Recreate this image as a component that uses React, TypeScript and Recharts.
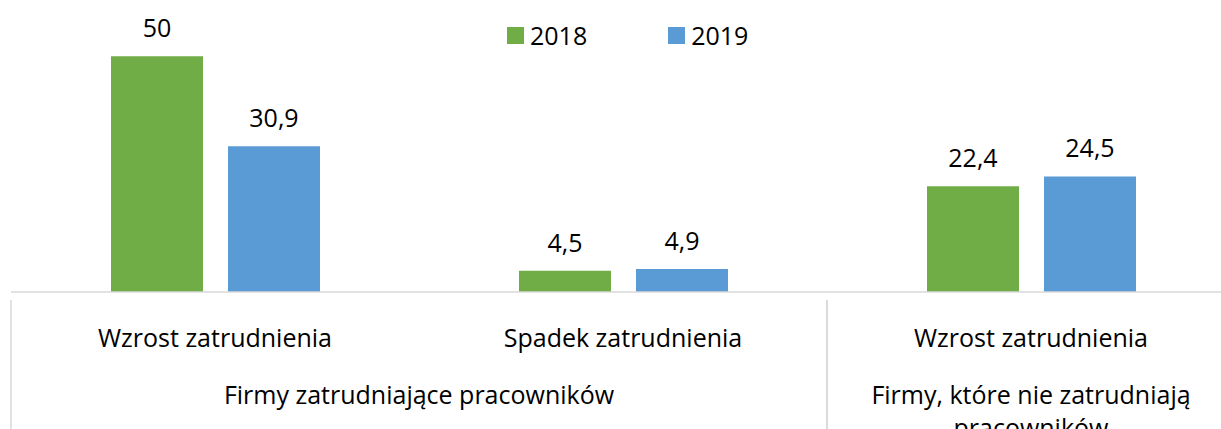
import React from "react";
import { BarChart, Bar, XAxis, YAxis, LabelList } from "recharts";

const categories = ["Wzrost zatrudnienia", "Spadek zatrudnienia", "Wzrost zatrudnienia"];
const values2018 = [50, 4.5, 22.4];
const values2019 = [30.9, 4.9, 24.5];
const groupLabelLines = [["Firmy zatrudniające pracowników"], ["Firmy, które nie zatrudniają", "pracowników"]];
const groupStarts = [0, 2];
const groupSpans = [2, 1];
const seriesNames = ["2018", "2019"];

const COLORS = ["#70AD47", "#5B9BD5"];
const FONT = "'Open Sans', sans-serif";
const FS = 25;
const W = 1250;
const H = 440;
const M = { top: 9, right: 15, left: 11, bottom: 0 };
const PLOT_W = W - M.left - M.right;
const BAND = PLOT_W / categories.length;
const AXIS_H = 148;

const data = categories.map((c, i) => ({
  name: c,
  v2018: values2018[i],
  v2019: values2019[i],
}));

const fmt = (v: number) => String(v).replace(".", ",");

const Tick = (props: any) => {
  const { x, y, payload, index } = props;
  const gi = groupStarts.indexOf(index);
  const left = x - BAND / 2;
  return (
    <g>
      <text x={x} y={y + 47} textAnchor="middle" fontFamily={FONT} fontSize={FS} fill="#000">
        {payload.value}
      </text>
      {gi >= 0 && (
        <>
          <line x1={left} y1={y} x2={left} y2={y + AXIS_H} stroke="#D9D9D9" strokeWidth={1.5} />
          <line
            x1={left + groupSpans[gi] * BAND}
            y1={y}
            x2={left + groupSpans[gi] * BAND}
            y2={y + AXIS_H}
            stroke="#D9D9D9"
            strokeWidth={1.5}
          />
          {groupLabelLines[gi].map((ln, k) => (
            <text
              key={k}
              x={left + (groupSpans[gi] * BAND) / 2}
              y={y + 104 + k * 33}
              textAnchor="middle"
              fontFamily={FONT}
              fontSize={FS}
              fill="#000"
            >
              {ln}
            </text>
          ))}
        </>
      )}
    </g>
  );
};

const LegendBox = () => (
  <div
    style={{
      position: "absolute",
      left: 507,
      top: 22,
      display: "flex",
      alignItems: "center",
      fontFamily: FONT,
      fontSize: FS,
      color: "#000",
    }}
  >
    {seriesNames.map((s, i) => (
      <div key={s} style={{ display: "flex", alignItems: "center", marginRight: i === 0 ? 81 : 0 }}>
        <span style={{ width: 17, height: 17, background: COLORS[i], display: "inline-block", marginRight: 6 }} />
        <span style={{ lineHeight: "27px" }}>{s}</span>
      </div>
    ))}
  </div>
);

export default function App() {
  return (
    <div style={{ position: "absolute", left: 0, top: 0, width: 1221, height: 429, overflow: "hidden", background: "#fff" }}>
      <BarChart width={W} height={H} data={data} margin={M} barSize={92} barGap={25}>
        <XAxis
          dataKey="name"
          height={AXIS_H}
          axisLine={{ stroke: "#D9D9D9", strokeWidth: 1.5 }}
          tickLine={false}
          tick={<Tick />}
          interval={0}
        />
        <YAxis hide domain={[0, 60]} />
        <Bar dataKey="v2018" name="2018" fill={COLORS[0]} isAnimationActive={false}>
          <LabelList dataKey="v2018" position="top" offset={19} formatter={fmt as any} fontFamily={FONT} fontSize={FS} fill="#000" />
        </Bar>
        <Bar dataKey="v2019" name="2019" fill={COLORS[1]} isAnimationActive={false}>
          <LabelList dataKey="v2019" position="top" offset={19} formatter={fmt as any} fontFamily={FONT} fontSize={FS} fill="#000" />
        </Bar>
      </BarChart>
      <LegendBox />
    </div>
  );
}
